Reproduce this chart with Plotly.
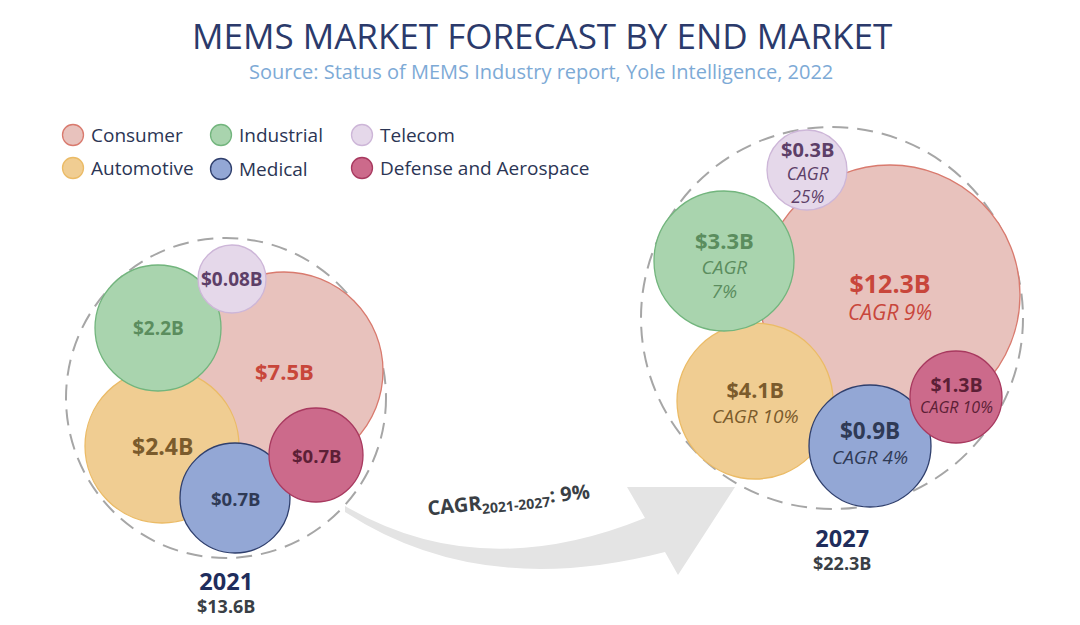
import plotly.graph_objects as go

# data
segments = ["Consumer", "Industrial", "Telecom", "Automotive", "Medical", "Defense and Aerospace"]
values_2021 = [7.5, 2.2, 0.08, 2.4, 0.7, 0.7]
values_2027 = [12.3, 3.3, 0.3, 4.1, 0.9, 1.3]
cagr_2027 = [9, 7, 25, 10, 4, 10]
years = ["2021", "2027"]
totals = [13.6, 22.3]
cagr_total = 9

# styling per segment
fills = ["#E8C2BD", "#A9D4AE", "#E5D8EA", "#F0CD92", "#93A7D5", "#CC6A8B"]
edges = ["#D97A6E", "#72B57D", "#CDB6D8", "#EBBB66", "#2F3F6D", "#A8395F"]
label_cols = ["#C8463B", "#5B8D5E", "#5D3F68", "#7B5B2C", "#2F3A55", "#5C1F36"]
NAVY = "#2B3A6B"

# packed-bubble layout (pixel positions, radii) -- layout only
pack_2021 = {  # cx, cy, r, label size
    "Consumer": (284, 371, 99, 22), "Industrial": (158, 328, 63, 19),
    "Telecom": (232, 279, 34, 19), "Automotive": (162, 446, 77, 23),
    "Medical": (235, 498, 55, 18.5), "Defense and Aerospace": (316, 455, 47, 18.5),
}
pack_2027 = {
    "Consumer": (890, 295, 130), "Industrial": (724, 261, 70),
    "Telecom": (807, 170, 40), "Automotive": (755, 401, 78),
    "Medical": (870, 446, 61), "Defense and Aerospace": (956, 397, 46),
}
# 2027 labels: (value size, cagr size, block centre y, cagr split on two lines)
lab_2027 = {
    "Consumer": (25, 21, 296, False),
    "Industrial": (22, 19, 264, True),
    "Telecom": (20, 17.5, 172, True),
    "Automotive": (21.5, 19, 402, False),
    "Medical": (22.5, 19, 442, False),
    "Defense and Aerospace": (19.5, 16, 394, False),
}
outer = [(226, 398, 160), (832, 318, 191)]
draw_order = ["Consumer", "Automotive", "Industrial", "Telecom", "Medical", "Defense and Aerospace"]

FONT = "Open Sans"
OFF = 8  # page body margin of the html page
fig = go.Figure()
shapes, annots = [], []

# curved arrow between the two years
shapes.append(dict(type="path", xref="x", yref="y", layer="below",
                   path="M 345,506 Q 480,585 645,518 L 627,487 L 735,487 L 678,575 "
                        "L 665,552 Q 480,600 345,512 Z",
                   fillcolor="#E4E4E4", line=dict(width=0)))

for k, (pack, vals) in enumerate([(pack_2021, values_2021), (pack_2027, values_2027)]):
    cx, cy, r = outer[k]
    shapes.append(dict(type="circle", xref="x", yref="y", x0=cx - r, x1=cx + r, y0=cy - r, y1=cy + r,
                       line=dict(color="#A6A6A6", width=2, dash="16px,9px"), fillcolor="rgba(0,0,0,0)"))
    for name in draw_order:
        i = segments.index(name)
        x, y, rr = pack[name][:3]
        shapes.append(dict(type="circle", xref="x", yref="y", x0=x - rr, x1=x + rr, y0=y - rr, y1=y + rr,
                           fillcolor=fills[i], line=dict(color=edges[i], width=1.3)))
        val = f"${vals[i]:g}B"
        if k == 0:
            annots.append(dict(x=x, y=y, text=f"<b>{val}</b>", showarrow=False,
                               font=dict(family=FONT, size=pack[name][3], color=label_cols[i])))
        else:
            vs, cs, by, split = lab_2027[name]
            sep = "<br>" if split else " "
            txt = (f"<span style='font-size:{vs}px'><b>{val}</b></span><br>"
                   f"<i>CAGR{sep}{cagr_2027[i]}%</i>")
            annots.append(dict(x=x, y=by, text=txt, showarrow=False,
                               font=dict(family=FONT, size=cs, color=label_cols[i])))

# year / total captions
for (yr, tot, pos) in zip(years, totals, [(226, 591), (842, 548)]):
    annots.append(dict(x=pos[0], y=pos[1], showarrow=False,
                       text=f"<span style='font-size:23.5px;color:#1F2D5C'><b>{yr}</b></span><br><b>${tot:g}B</b>",
                       font=dict(family=FONT, size=18, color="#3A3F45")))

annots.append(dict(x=508, y=500, text=f"<b>CAGR<sub>2021-2027</sub>: {cagr_total}%</b>",
                   showarrow=False, textangle=-6,
                   font=dict(family=FONT, size=20, color="#3A3F45")))

# legend drawn manually (two rows of three)
leg_pos = [(73, 135), (221, 135), (362, 135), (73, 168), (221, 169), (362, 168)]
fig.add_trace(go.Scatter(x=[p[0] for p in leg_pos], y=[p[1] for p in leg_pos], mode="markers",
                         marker=dict(size=21, color=fills, line=dict(color=edges, width=1.3)),
                         hoverinfo="text", text=segments, showlegend=False))
for name, (lx, ly) in zip(segments, leg_pos):
    annots.append(dict(x=lx + 16, y=ly, text=name, showarrow=False, xanchor="left",
                       font=dict(family=FONT, size=19, color="#2B3554")))

# title block
annots.append(dict(x=542, y=35, text="MEMS MARKET FORECAST BY END MARKET", showarrow=False,
                   font=dict(family=FONT, size=35, color=NAVY)))
annots.append(dict(x=541, y=71, text="Source: Status of MEMS Industry report, Yole Intelligence, 2022",
                   showarrow=False, font=dict(family=FONT, size=20, color="#7DAAD6")))

fig.update_layout(
    width=1080, height=625, margin=dict(l=0, r=0, t=0, b=0),
    paper_bgcolor="white", plot_bgcolor="white",
    xaxis=dict(range=[OFF, 1080 + OFF], visible=False, fixedrange=True),
    yaxis=dict(range=[625 + OFF, OFF], visible=False, fixedrange=True),
    shapes=shapes, annotations=annots, showlegend=False,
)

fig.write_html("out.html")
